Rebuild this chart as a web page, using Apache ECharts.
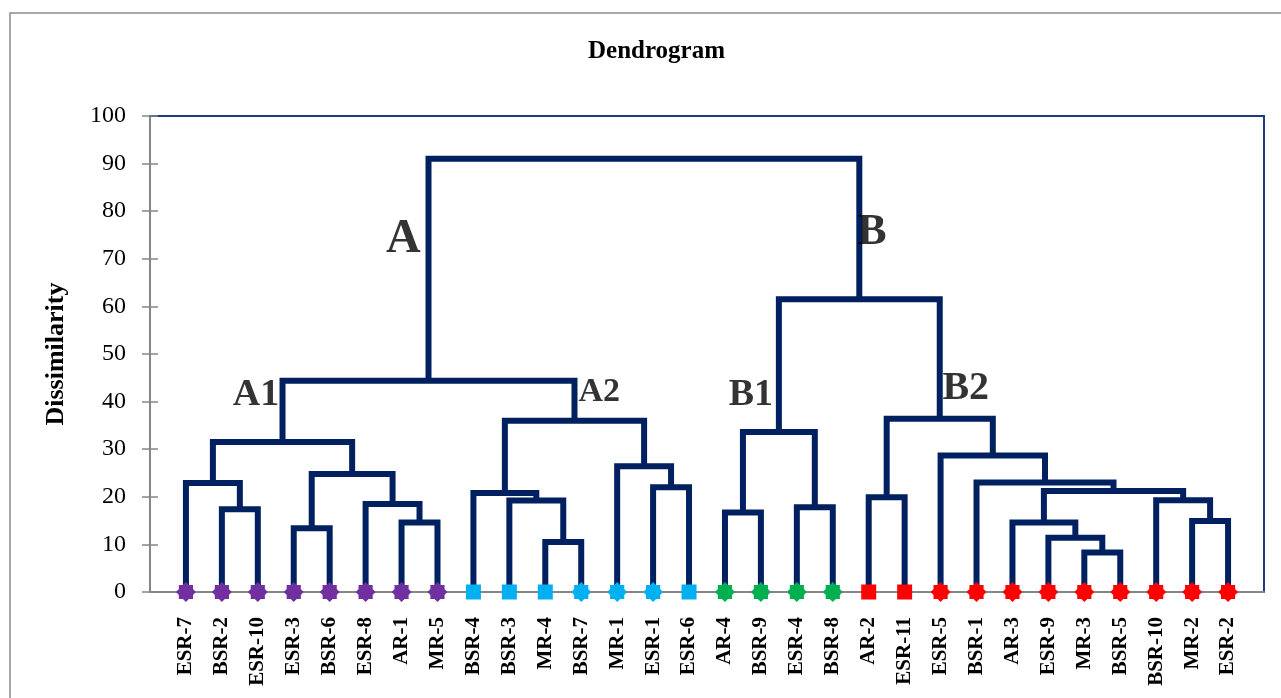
<!DOCTYPE html>
<html>
<head>
<meta charset="utf-8">
<script src="https://cdn.jsdelivr.net/npm/echarts@6/dist/echarts.min.js"></script>
<style>
html,body{margin:0;padding:0;background:#fff;}
#chart{width:1281px;height:698px;}
</style>
</head>
<body>
<div id="chart"></div>
<script>
// ---- data ----
const leaves = ['ESR-7','BSR-2','ESR-10','ESR-3','BSR-6','ESR-8','AR-1','MR-5',
  'BSR-4','BSR-3','MR-4','BSR-7','MR-1','ESR-1','ESR-6',
  'AR-4','BSR-9','ESR-4','BSR-8',
  'AR-2','ESR-11','ESR-5','BSR-1','AR-3','ESR-9','MR-3','BSR-5','BSR-10','MR-2','ESR-2'];
const leafGroup = ['A1','A1','A1','A1','A1','A1','A1','A1',
  'A2','A2','A2','A2','A2','A2','A2',
  'B1','B1','B1','B1',
  'B2','B2','B2','B2','B2','B2','B2','B2','B2','B2','B2'];
const leafMarker = ['star','star','star','star','star','star','star','star',
  'square','square','square','star','star','star','square',
  'star','star','star','star',
  'square','square','star','star','star','star','star','star','star','star','star'];
// linkage: ids < 30 are leaves (index in leaves), id >= 30 is merge (id-30)
const mergeLeft   = [25, 10, 24, 3,  6,  23, 28, 15, 1,  17, 5,  9,  27, 19, 8,  35, 13, 0,  22, 33, 12, 21, 47, 37, 44, 43, 52, 53, 56];
const mergeRight  = [26, 11, 30, 4,  7,  32, 29, 16, 2,  18, 34, 31, 36, 20, 41, 42, 14, 38, 45, 40, 46, 48, 49, 39, 50, 51, 54, 55, 57];
const mergeHeight = [8.3,10.5,11.4,13.4,14.6,14.6,14.9,16.7,17.4,17.8,18.5,19.2,19.3,19.9,20.8,21.2,22.0,22.9,23.0,24.8,26.4,28.7,31.5,33.6,36.0,36.4,44.4,61.5,91.0];
const yTicks = [0,10,20,30,40,50,60,70,80,90,100];
const clusterLabelText = ['A','B','A1','A2','B1','B2'];
const clusterLabelX    = [7.05, 20.09, 2.95, 12.5, 16.72, 22.7];
const clusterLabelY    = [74.1, 75.5, 41.4, 42.0, 41.3, 42.8];

// ---- styles ----
const groupColor = {A1:'#7030A0', A2:'#00B0F0', B1:'#00B050', B2:'#FF0000'};
const starPath = 'path://M-0.85,-0.85L0.85,-0.85L0.85,0.85L-0.85,0.85Z M0,-1.2L1.2,0L0,1.2L-1.2,0Z';
const labelSize = {A:48, B:44, A1:38, A2:34, B1:38, B2:40};
const serif = "'Liberation Serif','Times New Roman',serif";

// ---- layout from linkage ----
const n = leaves.length;
const nodeX = leaves.map((_, i) => i + 1);
const nodeH = leaves.map(() => 0);
const segs = [];
for (let k = 0; k < mergeHeight.length; k++) {
  const l = mergeLeft[k], r = mergeRight[k];
  const xl = nodeX[l], xr = nodeX[r];
  segs.push([xl, nodeH[l], xr, nodeH[r], mergeHeight[k]]);
  nodeX.push((xl + xr) / 2);
  nodeH.push(mergeHeight[k]);
}

const leafData = leaves.map((name, i) => ({
  name: name,
  value: [i + 1, 0],
  symbol: leafMarker[i] === 'square' ? 'rect' : starPath,
  symbolSize: leafMarker[i] === 'square' ? 15 : 20,
  itemStyle: {color: groupColor[leafGroup[i]], opacity: 1}
}));

const clusterData = clusterLabelText.map((t, i) => ({
  name: t,
  value: [clusterLabelX[i], clusterLabelY[i]],
  label: {fontSize: labelSize[t]}
}));

const chart = echarts.init(document.getElementById('chart'), null, {renderer: 'canvas'});
const axisGray = '#868686';
const frameNavy = '#1F3A7A';
chart.setOption({
  animation: false,
  backgroundColor: '#fff',
  title: {
    text: 'Dendrogram',
    left: 583, top: 34,
    textStyle: {fontFamily: serif, fontWeight: 'bold', fontSize: 25, color: '#000'}
  },
  graphic: [{
    type: 'rect', silent: true, z: -1,
    shape: {x: 10, y: 13, width: 1300, height: 720},
    style: {fill: 'none', stroke: '#8c8c8c', lineWidth: 1.5}
  }],
  grid: {left: 150, right: 17, top: 116, bottom: 106, containLabel: false},
  xAxis: [{
    type: 'value', min: 0, max: 31, interval: 1, position: 'bottom',
    axisLine: {show: true, lineStyle: {color: axisGray, width: 2}},
    axisTick: {show: false},
    splitLine: {show: false},
    axisLabel: {
      show: true, rotate: 90, margin: 25, hideOverlap: false,
      showMinLabel: true, showMaxLabel: true,
      fontFamily: serif, fontWeight: 'bold', fontSize: 21, color: '#000',
      formatter: v => (v >= 1 && v <= n && Number.isInteger(v)) ? leaves[v - 1] : ''
    }
  }, {
    type: 'value', min: 0, max: 31, position: 'top',
    axisLine: {show: true, onZero: false, lineStyle: {color: frameNavy, width: 2}},
    axisTick: {show: false}, axisLabel: {show: false}, splitLine: {show: false}
  }],
  yAxis: [{
    type: 'value', min: 0, max: 100, interval: 10, position: 'left',
    name: 'Dissimilarity', nameLocation: 'middle', nameRotate: 90, nameGap: 81,
    nameTextStyle: {fontFamily: serif, fontWeight: 'bold', fontSize: 26, color: '#000'},
    axisLine: {show: true, lineStyle: {color: axisGray, width: 2}},
    axisTick: {show: true, inside: false, length: 8, lineStyle: {color: axisGray, width: 1.5}},
    splitLine: {show: false},
    axisLabel: {margin: 24, fontFamily: serif, fontSize: 24, color: '#000',
      formatter: v => yTicks.includes(v) ? String(v) : ''}
  }, {
    type: 'value', min: 0, max: 100, interval: 10, position: 'left',
    axisLine: {show: false},
    axisTick: {show: true, inside: true, length: 8, lineStyle: {color: axisGray, width: 1.5}},
    axisLabel: {show: false}, splitLine: {show: false}
  }, {
    type: 'value', min: 0, max: 100, position: 'right',
    axisLine: {show: true, onZero: false, lineStyle: {color: frameNavy, width: 2}},
    axisTick: {show: false}, axisLabel: {show: false}, splitLine: {show: false}
  }],
  series: [{
    type: 'custom',
    name: 'links',
    xAxisIndex: 0, yAxisIndex: 0,
    z: 2,
    silent: true,
    encode: {x: [0, 2], y: [1, 3, 4]},
    data: segs,
    renderItem: function (params, api) {
      const p1 = api.coord([api.value(0), api.value(1)]);
      const p2 = api.coord([api.value(0), api.value(4)]);
      const p3 = api.coord([api.value(2), api.value(4)]);
      const p4 = api.coord([api.value(2), api.value(3)]);
      return {
        type: 'polyline',
        shape: {points: [p1, p2, p3, p4]},
        style: {stroke: '#002060', lineWidth: 6, fill: 'none', lineJoin: 'miter'}
      };
    }
  }, {
    type: 'scatter',
    name: 'leaves',
    xAxisIndex: 0, yAxisIndex: 0,
    z: 4,
    silent: true,
    itemStyle: {opacity: 1},
    data: leafData
  }, {
    type: 'scatter',
    name: 'clusters',
    xAxisIndex: 0, yAxisIndex: 0,
    z: 5,
    silent: true,
    symbolSize: 0,
    data: clusterData,
    label: {
      show: true, position: 'inside',
      formatter: p => p.name,
      fontFamily: serif, fontWeight: 'bold', color: '#000'
    }
  }]
});
</script>
</body>
</html>
